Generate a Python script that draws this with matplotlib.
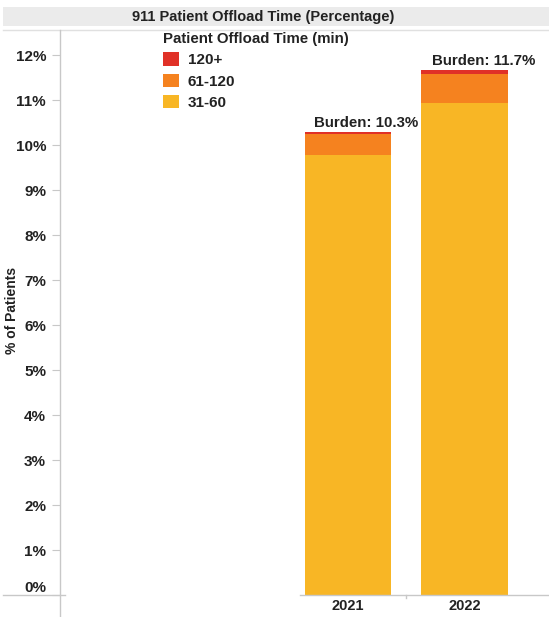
import matplotlib.pyplot as plt
from matplotlib.patches import Rectangle
from matplotlib.lines import Line2D

plt.rcParams['font.family'] = ['Liberation Sans', 'DejaVu Sans']

# data (percent of patients)
years = ['2021', '2022']
pct_31_60 = [9.78, 10.93]
pct_61_120 = [0.47, 0.65]
pct_120_plus = [0.05, 0.09]
burden = [10.3, 11.7]

c_yellow = '#f8b625'
c_orange = '#f5821f'
c_red = '#e03127'
txt = '#222222'
grid_c = '#c8c8c8'

fig = plt.figure(figsize=(5.49, 6.17), dpi=100)
W, H = 549, 617

def fx(x):
    return x / W

def fy(y):
    return 1 - y / H

# title band
fig.patches.append(Rectangle((fx(3), fy(26)), fx(546), 19 / H, transform=fig.transFigure,
                             facecolor='#ebebeb', edgecolor='none'))
fig.text(fx(263), fy(16.5), '911 Patient Offload Time (Percentage)', ha='center', va='center',
         fontsize=10.5, fontweight='bold', color=txt)
fig.lines.append(Line2D([fx(3), 1], [fy(29.5), fy(29.5)], transform=fig.transFigure,
                        color='#e0e0e0', lw=1))

ax = fig.add_axes([fx(60), fy(595), fx(489), 565 / H])
x = list(range(len(years)))
w = 0.74
b2 = [a + b for a, b in zip(pct_31_60, pct_61_120)]
ax.bar(x, pct_31_60, width=w, color=c_yellow, label='31-60', zorder=2)
ax.bar(x, pct_61_120, width=w, bottom=pct_31_60, color=c_orange, label='61-120', zorder=2)
ax.bar(x, pct_120_plus, width=w, bottom=b2, color=c_red, label='120+', zorder=2)

for i, v in enumerate(burden):
    top = pct_31_60[i] + pct_61_120[i] + pct_120_plus[i]
    ax.text(i + 0.16, top + 0.2, f'Burden: {v}%', ha='center', va='center',
            fontsize=10.8, fontweight='bold', color=txt)

ax.set_xlim(-2.46, 1.72)
ax.set_ylim(0, 12.56)
ax.set_yticks(range(0, 13))
ax.set_yticklabels([f'{t}%' for t in range(0, 13)])
ax.set_xticks([])
for s in ax.spines.values():
    s.set_visible(False)
ax.tick_params(axis='y', length=6, color=grid_c, labelsize=11, labelcolor=txt, pad=4)
for lab in ax.get_yticklabels():
    lab.set_fontweight('bold')
# bottom label nudged up like the original
ax.get_yticklabels()[0].set_va('bottom')

# year labels
for i, yr in enumerate(years):
    fig.text(fx(347.5 + 117 * i), fy(606), yr, ha='center', va='center',
             fontsize=10.5, fontweight='bold', color=txt)

# axis lines
fig.lines.append(Line2D([fx(60), fx(60)], [fy(30), 0], transform=fig.transFigure,
                        color=grid_c, lw=1))
fig.lines.append(Line2D([fx(3), fx(65)], [fy(595), fy(595)], transform=fig.transFigure,
                        color=grid_c, lw=1))
fig.lines.append(Line2D([fx(300), 1], [fy(595), fy(595)], transform=fig.transFigure,
                        color=grid_c, lw=1))
fig.lines.append(Line2D([fx(406), fx(406)], [fy(595), fy(598)], transform=fig.transFigure,
                        color=grid_c, lw=1))

fig.text(fx(12), fy(310), '% of Patients', rotation=90, ha='center', va='center',
         fontsize=10, fontweight='bold', color=txt)

# legend
handles, labels = ax.get_legend_handles_labels()
leg = fig.legend(handles[::-1], labels[::-1], title='Patient Offload Time (min)',
                 loc='upper left', bbox_to_anchor=(fx(151), fy(20)), frameon=False,
                 fontsize=11, title_fontsize=10.8, handlelength=1.0, handleheight=1.0,
                 handletextpad=0.6, labelspacing=0.4, borderpad=0.3, alignment='left')
leg.get_title().set_fontweight('bold')
leg.get_title().set_color(txt)
for t in leg.get_texts():
    t.set_fontweight('bold')
    t.set_color(txt)

fig.savefig('out.png', dpi=100)
